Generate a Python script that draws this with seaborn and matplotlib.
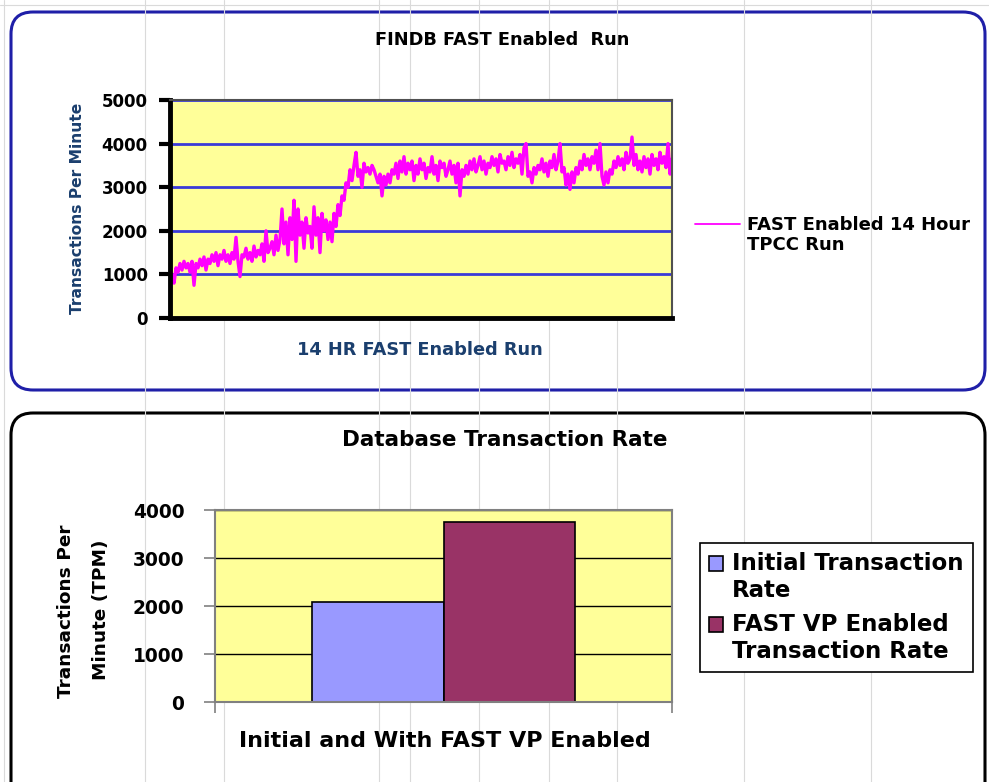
import numpy as np
import pandas as pd
import matplotlib
matplotlib.use("Agg")
import matplotlib.pyplot as plt
import seaborn as sns
from matplotlib.patches import FancyBboxPatch
from matplotlib.legend_handler import HandlerLine2D, HandlerPatch

# top chart: transactions per minute over the 14 hour run (~every 2 px)
tpm_run = [
    650, 1000, 800, 1150, 1050, 1250, 1100, 1300, 1150, 1250,
    1050, 1300, 750, 1250, 1150, 1350, 1200, 1400, 1100, 1350,
    1250, 1450, 1300, 1500, 1200, 1450, 1350, 1550, 1300, 1450,
    1250, 1500, 1350, 1850, 1300, 950, 1450, 1400, 1600, 1350,
    1500, 1300, 1650, 1400, 1550, 1450, 1700, 1300, 2000, 1500,
    1600, 1750, 1450, 1900, 1550, 1800, 2500, 1700, 2200, 1450,
    2300, 1800, 2700, 1300, 2500, 1900, 2200, 1600, 2300, 1950,
    2100, 1600, 2550, 1900, 2300, 1500, 2400, 2000, 2250, 1800,
    2200, 1750, 2400, 2100, 2600, 2350, 2800, 2700, 3100, 3000,
    3400, 3150, 3500, 3800, 3250, 3400, 3000, 3550, 3350, 3450,
    3300, 3500, 3400, 3250, 3100, 3300, 2800, 3250, 3050, 3300,
    3100, 3400, 3300, 3550, 3200, 3600, 3350, 3700, 3300, 3550,
    3400, 3600, 3150, 3500, 3300, 3650, 3400, 3550, 3200, 3450,
    3350, 3700, 3300, 3500, 3150, 3600, 3450, 3550, 3250, 3400,
    3600, 3300, 3500, 3100, 3550, 2800, 3400, 3250, 3500, 3300,
    3600, 3400, 3650, 3350, 3500, 3700, 3400, 3600, 3300, 3550,
    3450, 3700, 3500, 3650, 3350, 3750, 3550, 3600, 3400, 3700,
    3500, 3800, 3450, 3650, 3550, 3750, 3300, 3900, 4000, 3250,
    3350, 3100, 3450, 3300, 3500, 3400, 3650, 3350, 3550, 3250,
    3600, 3450, 3750, 3400, 3600, 4000, 3350, 3450, 3050, 3300,
    2950, 3350, 3100, 3450, 3300, 3600, 3400, 3750, 3500, 3650,
    3400, 3700, 3550, 3850, 3400, 4000, 3250, 3050, 3350, 3100,
    3400, 3300, 3600, 3450, 3700, 3500, 3650, 3400, 3800, 3550,
    3650, 4150, 3500, 3750, 3400, 3600, 3350, 3700, 3450, 3650,
    3300, 3750, 3500, 3650, 3400, 3800, 3550, 3700, 3450, 4000,
    3300, 3650,
]
run_label = "FAST Enabled 14 Hour\nTPCC Run"

# bottom chart
rate_group = "Initial and With FAST VP Enabled"
rate_series = ["Initial Transaction\nRate", "FAST VP Enabled\nTransaction Rate"]
rate_values = [2090, 3750]
rate_colors = ["#9999FF", "#993366"]

sns.set_theme(style="ticks")
plt.rcParams["font.family"] = ["DejaVu Sans"]
plt.rcParams["font.weight"] = "bold"
plt.rcParams["text.color"] = "black"
plt.rcParams["xtick.color"] = "black"
plt.rcParams["ytick.color"] = "black"
plt.rcParams["xtick.labelcolor"] = "black"
plt.rcParams["ytick.labelcolor"] = "black"


# excel puts the legend key next to the first text line, not the middle
class FirstLineHandler(HandlerLine2D):
    def create_artists(self, legend, orig_handle, xdescent, ydescent, width, height, fontsize, trans):
        arts = super().create_artists(legend, orig_handle, xdescent, ydescent, width, height, fontsize, trans)
        for a in arts:
            a.set_ydata(np.asarray(a.get_ydata()) + 0.65 * fontsize)
        return arts


class FirstLinePatch(HandlerPatch):
    def create_artists(self, legend, orig_handle, xdescent, ydescent, width, height, fontsize, trans):
        arts = super().create_artists(legend, orig_handle, xdescent, ydescent, width, height, fontsize, trans)
        for a in arts:
            a.set_y(a.get_y() + 0.62 * fontsize)
        return arts


W, H = 989, 782
fig = plt.figure(figsize=(W / 100, H / 100), dpi=100)

# sheet background in pixel units (excel cells + rounded chart frames)
bg = fig.add_axes([0, 0, 1, 1], zorder=0)
bg.set_xlim(0, W)
bg.set_ylim(H, 0)
bg.axis("off")
for x in [4, 145, 224, 379, 410, 479, 549, 617, 744, 871]:
    bg.axvline(x, color="#DADADA", lw=0.8)
bg.axhline(5, color="#DADADA", lw=0.8)
bg.add_patch(FancyBboxPatch((11, 12), 974, 378, boxstyle="round,pad=0,rounding_size=22",
                            fc="white", ec="#1F1FA8", lw=2.2))
bg.add_patch(FancyBboxPatch((11, 413), 974, 420, boxstyle="round,pad=0,rounding_size=22",
                            fc="white", ec="black", lw=2.2))

# ---- top chart: line
ax1 = fig.add_axes([170 / W, 1 - 318 / H, 502 / W, 218 / H], zorder=2)
df_run = pd.DataFrame({"sample": np.arange(len(tpm_run)), "tpm": tpm_run})
sns.lineplot(data=df_run, x="sample", y="tpm", color="#FF00FF", lw=2.4, ax=ax1, label=run_label)
ax1.set_facecolor("#FFFF99")
ax1.set_xlim(0, len(tpm_run) - 1)
ax1.set_ylim(0, 5000)
ax1.set_yticks(range(0, 5001, 1000))
ax1.set_xticks([])
ax1.grid(axis="y", color="#3A3AD8", lw=2)
ax1.set_axisbelow(True)
for s in ["left", "bottom"]:
    ax1.spines[s].set(color="black", lw=3.5)
for s in ["top", "right"]:
    ax1.spines[s].set(color="#505050", lw=1.5)
ax1.tick_params(axis="y", length=8, width=3, color="black", pad=8, labelsize=12)
ax1.set_xlabel("")
ax1.set_ylabel("")
h1, l1 = ax1.get_legend_handles_labels()
leg1 = ax1.legend(h1, l1, loc="center left", bbox_to_anchor=(688 / W, 1 - 235 / H),
                  bbox_transform=fig.transFigure, frameon=False, fontsize=13, handlelength=2.5,
                  handletextpad=0.35, borderaxespad=0,
                  handler_map={h1[0]: FirstLineHandler()})
for ln in leg1.get_lines():
    ln.set_linewidth(1.3)

fig.text(502 / W, 1 - 40 / H, "FINDB FAST Enabled  Run", ha="center", va="center", fontsize=12.8)
fig.text(78 / W, 1 - 208 / H, "Transactions Per Minute", rotation=90, ha="center", va="center",
         fontsize=11.2, color="#1B3F6E")
fig.text(420 / W, 1 - 350 / H, "14 HR FAST Enabled Run", ha="center", va="center",
         fontsize=12.8, color="#1B3F6E")

# ---- bottom chart: bars
ax2 = fig.add_axes([215 / W, 1 - 702 / H, 457 / W, 192 / H], zorder=2)
df_rate = pd.DataFrame({"group": [rate_group] * 2, "series": rate_series, "tpm": rate_values})
sns.barplot(data=df_rate, x="group", y="tpm", hue="series", palette=rate_colors, saturation=1,
            width=0.575, edgecolor="black", linewidth=1.2, ax=ax2)
ax2.set_facecolor("#FFFF99")
ax2.set_xlim(-0.5, 0.5)
ax2.set_ylim(0, 4000)
ax2.set_yticks(range(0, 4001, 1000))
ax2.set_xticks([-0.5, 0.5])
ax2.set_xticklabels(["", ""])
ax2.grid(axis="y", color="black", lw=1)
ax2.set_axisbelow(True)
for s in ax2.spines.values():
    s.set(color="#808080", lw=1.5)
ax2.tick_params(length=8, width=1.2, color="#808080", labelsize=13.4)
ax2.tick_params(axis="y", pad=14)
ax2.set_xlabel("")
ax2.set_ylabel("")
h2, l2 = ax2.get_legend_handles_labels()
leg = ax2.legend(h2, l2, loc="upper left", bbox_to_anchor=(700 / W, 1 - 543 / H),
                 bbox_transform=fig.transFigure, fancybox=False, edgecolor="black", framealpha=1,
                 fontsize=16.5, handlelength=0.6, handleheight=0.6, handletextpad=0.4,
                 labelspacing=0.5, borderpad=0.4, borderaxespad=0,
                 handler_map={h: FirstLinePatch() for h in h2})
leg.get_frame().set_linewidth(1.2)

fig.text(505 / W, 1 - 440 / H, "Database Transaction Rate", ha="center", va="center", fontsize=15.5)
fig.text(445 / W, 1 - 741 / H, rate_group, ha="center", va="center", fontsize=16)
fig.text(66 / W, 1 - 611 / H, "Transactions Per", rotation=90, ha="center", va="center", fontsize=13.3)
fig.text(101 / W, 1 - 610 / H, "Minute (TPM)", rotation=90, ha="center", va="center", fontsize=13.3)

fig.savefig("out.png", dpi=100)
